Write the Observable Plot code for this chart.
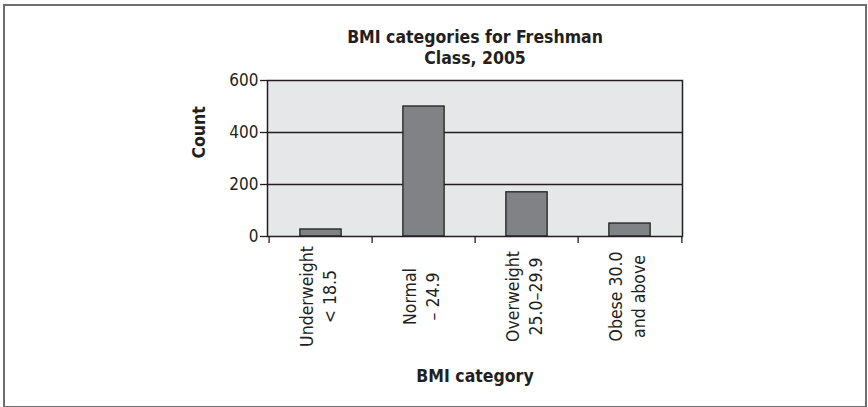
<!DOCTYPE html>
<html>
<head>
<meta charset="utf-8">
<script src="https://cdn.jsdelivr.net/npm/d3@7"></script>
<script src="https://cdn.jsdelivr.net/npm/@observablehq/plot@0.6"></script>
<style>
  html, body { margin: 0; padding: 0; background: #fff; }
  #wrap { position: relative; width: 868px; height: 407px; overflow: hidden; }
  #border { position: absolute; left: 3px; top: 4px; width: 864px; height: 404px; box-sizing: border-box;
            border: 2px solid #6d6e71; }
  #chart { position: absolute; left: 0; top: 0; }
</style>
</head>
<body>
<div id="wrap"><div id="border"></div><div id="chart"></div></div>
<script>
const titleText = "BMI categories for Freshman\nClass, 2005";
const categories = ["Underweight\n< 18.5", "Normal\n– 24.9", "Overweight\n25.0–29.9", "Obese 30.0\nand above"];
const counts = [27, 500, 170, 50];
const yTicks = [0, 200, 400, 600];
const yLabel = "Count";
const xLabel = "BMI category";

const data = categories.map((c, i) => ({category: c, count: counts[i]}));

const W = 868, H = 407;
const mL = 267, mR = 186, mT = 80, mB = 171;
const step = (W - mL - mR) / categories.length;
const barW = 42;
const inset = (step - barW) / 2;
const font = "'Liberation Sans Narrow', 'DejaVu Sans Condensed', 'Arial Narrow', sans-serif";
const ink = "#231f20";

const plot = Plot.plot({
  width: W, height: H,
  marginLeft: mL, marginRight: mR, marginTop: mT, marginBottom: mB,
  style: {fontFamily: font, fontStretch: "condensed", fontSize: "17px", color: ink, background: "transparent"},
  x: {type: "band", domain: categories, padding: 0, axis: null},
  y: {domain: [0, 600], axis: null},
  marks: [
    Plot.frame({fill: "#e6e7e8"}),
    Plot.ruleY(yTicks.slice(1, -1), {stroke: ink, strokeWidth: 1.5}),
    Plot.barY(data, {x: "category", y: "count", fill: "#808285", stroke: ink, strokeWidth: 1.3, insetLeft: inset, insetRight: inset}),
    Plot.frame({stroke: ink, strokeWidth: 1.5}),
    Plot.ruleX(categories, {x: d => d, dx: -step / 2, y1: 0, y2: 0, insetBottom: -7, stroke: ink, strokeWidth: 1.3}),
    Plot.ruleX(categories.slice(-1), {x: d => d, dx: step / 2, y1: 0, y2: 0, insetBottom: -7, stroke: ink, strokeWidth: 1.3}),
    Plot.axisY({ticks: yTicks, tickSize: 7, tickPadding: 2, tickFormat: d => String(d), label: null, fontSize: 17, stroke: ink, strokeWidth: 1.3}),
    Plot.text(data, {x: "category", frameAnchor: "bottom", dy: 60, dx: -4, text: "category", rotate: -90,
      textAnchor: "middle", lineAnchor: "middle", lineHeight: 1.35, fontSize: 17.5, fill: ink}),
    Plot.text([yLabel], {frameAnchor: "left", dx: -68, rotate: -90, text: d => d, fontSize: 17.5, fontWeight: "bold", fill: ink}),
    Plot.text([xLabel], {frameAnchor: "bottom", dy: 145, text: d => d, fontSize: 17.5, fontWeight: "bold", fill: ink}),
    Plot.text([titleText], {frameAnchor: "top", dy: -17, text: d => d, lineAnchor: "bottom", lineHeight: 1.2, fontSize: 17.5, fontWeight: "bold", fill: ink})
  ]
});
document.getElementById("chart").appendChild(plot);
</script>
</body>
</html>
